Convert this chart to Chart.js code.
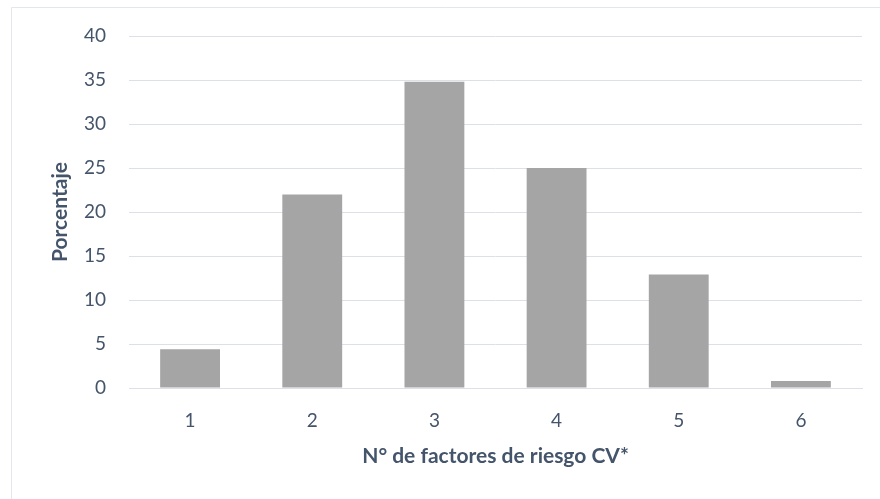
<!DOCTYPE html>
<html>
<head>
<meta charset="utf-8">
<script src="https://cdn.jsdelivr.net/npm/chart.js@4"></script>
<style>
  html, body { margin: 0; padding: 0; background: #ffffff; }
  #wrap { width: 880px; height: 499px; position: relative; }
</style>
</head>
<body>
<div id="wrap"><canvas id="chart" width="880" height="499"></canvas></div>
<script>
// Number of cardiovascular risk factors vs. share of patients
const categories = ['1', '2', '3', '4', '5', '6'];
const percentages = [4.4, 22.0, 34.8, 25.0, 12.9, 0.8];
const yTicks = [0, 5, 10, 15, 20, 25, 30, 35, 40];

const textColor = '#44546a';
const gridColor = '#dde1e7';
const fontFamily = 'Lato, "Open Sans", "Liberation Sans", sans-serif';

// Thin frame along the top and left edges of the chart
const framePlugin = {
  id: 'frame',
  beforeDraw(chart) {
    const ctx = chart.ctx;
    ctx.save();
    ctx.fillStyle = '#ffffff';
    ctx.fillRect(0, 0, chart.width, chart.height);
    ctx.strokeStyle = '#e3e6ea';
    ctx.lineWidth = 1;
    ctx.beginPath();
    ctx.moveTo(11.5, chart.height);
    ctx.lineTo(11.5, 7.5);
    ctx.lineTo(chart.width, 7.5);
    ctx.stroke();
    ctx.restore();
  }
};

new Chart(document.getElementById('chart'), {
  type: 'bar',
  data: {
    labels: categories,
    datasets: [{
      data: percentages,
      backgroundColor: '#a5a5a5',
      borderWidth: 0,
      categoryPercentage: 1,
      barPercentage: 0.49
    }]
  },
  options: {
    responsive: false,
    animation: false,
    layout: { padding: { left: 48, right: 18, top: 36, bottom: 30 } },
    plugins: {
      legend: { display: false },
      tooltip: { enabled: false }
    },
    scales: {
      x: {
        grid: { display: false, drawTicks: false },
        border: { display: true, color: gridColor, width: 1 },
        ticks: { color: textColor, font: { family: fontFamily, size: 19 }, padding: 21 },
        title: {
          display: true,
          text: 'N° de factores de riesgo CV*',
          color: textColor,
          font: { family: fontFamily, size: 21, weight: 'bold' },
          padding: { top: 0, bottom: 0 }
        },
        afterFit(scale) { scale.height = 81; }
      },
      y: {
        min: 0,
        max: 40,
        afterBuildTicks(scale) { scale.ticks = yTicks.map(v => ({ value: v })); },
        grid: { color: gridColor, lineWidth: 1, drawTicks: false },
        border: { display: false },
        ticks: { color: textColor, font: { family: fontFamily, size: 19 }, padding: 23 },
        title: {
          display: true,
          text: 'Porcentaje',
          color: textColor,
          font: { family: fontFamily, size: 21, weight: 'bold' },
          padding: { top: 0, bottom: 0 }
        },
        afterFit(scale) { scale.width = 81; }
      }
    }
  },
  plugins: [framePlugin]
});
</script>
</body>
</html>
